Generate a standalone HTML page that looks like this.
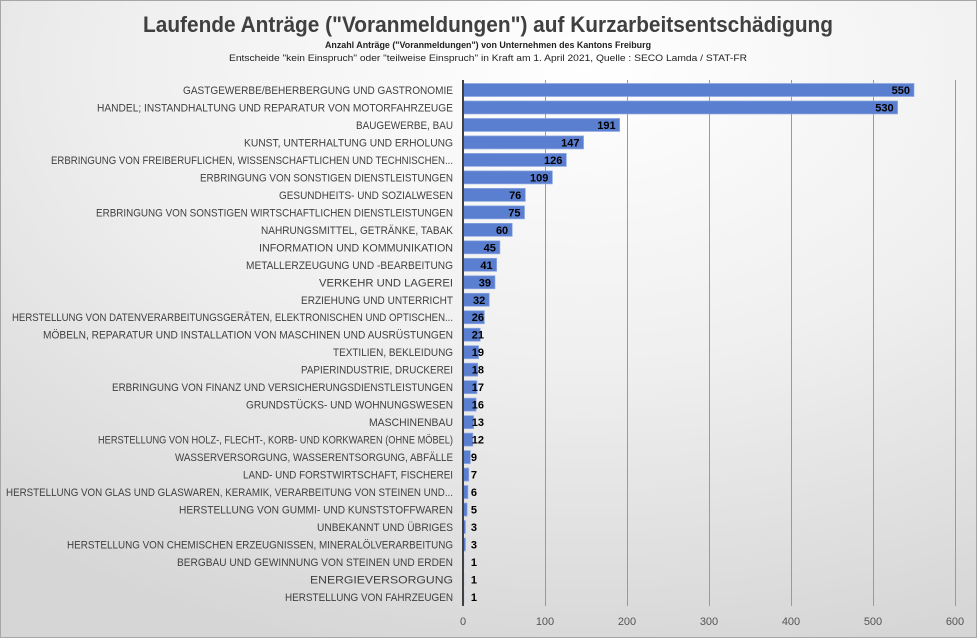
<!DOCTYPE html>
<html><head><meta charset="utf-8"><style>
html,body{margin:0;padding:0}
body{width:977px;height:638px;overflow:hidden;font-family:"Liberation Sans",sans-serif}
</style></head><body>
<svg width="977" height="638" xmlns="http://www.w3.org/2000/svg" font-family="Liberation Sans, sans-serif">
<defs>
<radialGradient id="bg" cx="0.6" cy="0.1" r="0.95" fx="0.6" fy="0.1">
<stop offset="0" stop-color="#ffffff"/><stop offset="0.5" stop-color="#efefef"/><stop offset="1" stop-color="#d6d6d6"/>
</radialGradient>
</defs>
<rect x="0.5" y="0.5" width="976" height="637" fill="url(#bg)" stroke="#a6a6a6"/>
<text x="488" y="32" text-anchor="middle" font-size="22" font-weight="bold" fill="#404040" textLength="690" lengthAdjust="spacingAndGlyphs">Laufende Anträge ("Voranmeldungen") auf Kurzarbeitsentschädigung</text>
<text x="488" y="48" text-anchor="middle" font-size="9" font-weight="bold" fill="#222" textLength="326" lengthAdjust="spacingAndGlyphs">Anzahl Anträge ("Voranmeldungen") von Unternehmen des Kantons Freiburg</text>
<text x="488" y="61" text-anchor="middle" font-size="9" fill="#222" textLength="518" lengthAdjust="spacingAndGlyphs">Entscheide "kein Einspruch" oder "teilweise Einspruch" in Kraft am 1. April 2021, Quelle : SECO Lamda / STAT-FR</text>
<g stroke="#9a9a9a" stroke-width="1">
<line x1="545.5" y1="80" x2="545.5" y2="606"/><line x1="627.5" y1="80" x2="627.5" y2="606"/>
<line x1="709.5" y1="80" x2="709.5" y2="606"/><line x1="791.5" y1="80" x2="791.5" y2="606"/>
<line x1="873.5" y1="80" x2="873.5" y2="606"/><line x1="955.5" y1="80" x2="955.5" y2="606"/>
</g>
<g font-size="11" fill="#555" text-anchor="middle">
<text x="463" y="625">0</text><text x="545" y="625">100</text><text x="627" y="625">200</text><text x="709" y="625">300</text><text x="791" y="625">400</text><text x="873" y="625">500</text><text x="955" y="625">600</text>
</g>
<g id="rows"></g>
<line x1="463" y1="80" x2="463" y2="606" stroke="#404040" stroke-width="2"/>
<script>
const d=[
["GASTGEWERBE/BEHERBERGUNG UND GASTRONOMIE",550,183],
["HANDEL; INSTANDHALTUNG UND REPARATUR VON MOTORFAHRZEUGE",530,97],
["BAUGEWERBE, BAU",191,356],
["KUNST, UNTERHALTUNG UND ERHOLUNG",147,244],
["ERBRINGUNG VON FREIBERUFLICHEN, WISSENSCHAFTLICHEN UND TECHNISCHEN...",126,51],
["ERBRINGUNG VON SONSTIGEN DIENSTLEISTUNGEN",109,200],
["GESUNDHEITS- UND SOZIALWESEN",76,279],
["ERBRINGUNG VON SONSTIGEN WIRTSCHAFTLICHEN DIENSTLEISTUNGEN",75,96],
["NAHRUNGSMITTEL, GETRÄNKE, TABAK",60,261],
["INFORMATION UND KOMMUNIKATION",45,259],
["METALLERZEUGUNG UND -BEARBEITUNG",41,246],
["VERKEHR UND LAGEREI",39,319],
["ERZIEHUNG UND UNTERRICHT",32,301],
["HERSTELLUNG VON DATENVERARBEITUNGSGERÄTEN, ELEKTRONISCHEN UND OPTISCHEN...",26,12],
["MÖBELN, REPARATUR UND INSTALLATION VON MASCHINEN UND AUSRÜSTUNGEN",21,43],
["TEXTILIEN, BEKLEIDUNG",19,333],
["PAPIERINDUSTRIE, DRUCKEREI",18,301],
["ERBRINGUNG VON FINANZ UND VERSICHERUNGSDIENSTLEISTUNGEN",17,112],
["GRUNDSTÜCKS- UND WOHNUNGSWESEN",16,246],
["MASCHINENBAU",13,369],
["HERSTELLUNG VON HOLZ-, FLECHT-, KORB- UND KORKWAREN (OHNE MÖBEL)",12,98],
["WASSERVERSORGUNG, WASSERENTSORGUNG, ABFÄLLE",9,175],
["LAND- UND FORSTWIRTSCHAFT, FISCHEREI",7,243],
["HERSTELLUNG VON GLAS UND GLASWAREN, KERAMIK, VERARBEITUNG VON STEINEN UND...",6,6],
["HERSTELLUNG VON GUMMI- UND KUNSTSTOFFWAREN",5,179],
["UNBEKANNT UND ÜBRIGES",3,317],
["HERSTELLUNG VON CHEMISCHEN ERZEUGNISSEN, MINERALÖLVERARBEITUNG",3,67],
["BERGBAU UND GEWINNUNG VON STEINEN UND ERDEN",1,177],
["ENERGIEVERSORGUNG",1,310],
["HERSTELLUNG VON FAHRZEUGEN",1,285]];
const NS="http://www.w3.org/2000/svg";const g=document.getElementById("rows");
d.forEach((r,i)=>{const cy=90+i*17.48;
 const t=document.createElementNS(NS,"text");t.setAttribute("x",r[2]);t.setAttribute("y",cy+4);
 t.setAttribute("font-size","11");t.setAttribute("fill","#404040");t.setAttribute("textLength",453-r[2]);
 t.setAttribute("lengthAdjust","spacingAndGlyphs");t.textContent=r[0];g.appendChild(t);
 const w=r[1]*0.82;const b=document.createElementNS(NS,"rect");b.setAttribute("x",463);b.setAttribute("y",cy-6.5);
 b.setAttribute("width",w);b.setAttribute("height",13);b.setAttribute("fill","#5b7fd0");b.setAttribute("stroke","#8fa8e0");b.setAttribute("stroke-width","0.7");g.appendChild(b);
 const s=String(r[1]);const tw=s.length*7;const xe=Math.max(463+w-4,470+tw);
 const v=document.createElementNS(NS,"text");v.setAttribute("x",xe);v.setAttribute("y",cy+4);v.setAttribute("text-anchor","end");
 v.setAttribute("font-size","11");v.setAttribute("font-weight","bold");v.setAttribute("fill","#000");v.textContent=s;g.appendChild(v);
});
</script>
</svg>
</body></html>
